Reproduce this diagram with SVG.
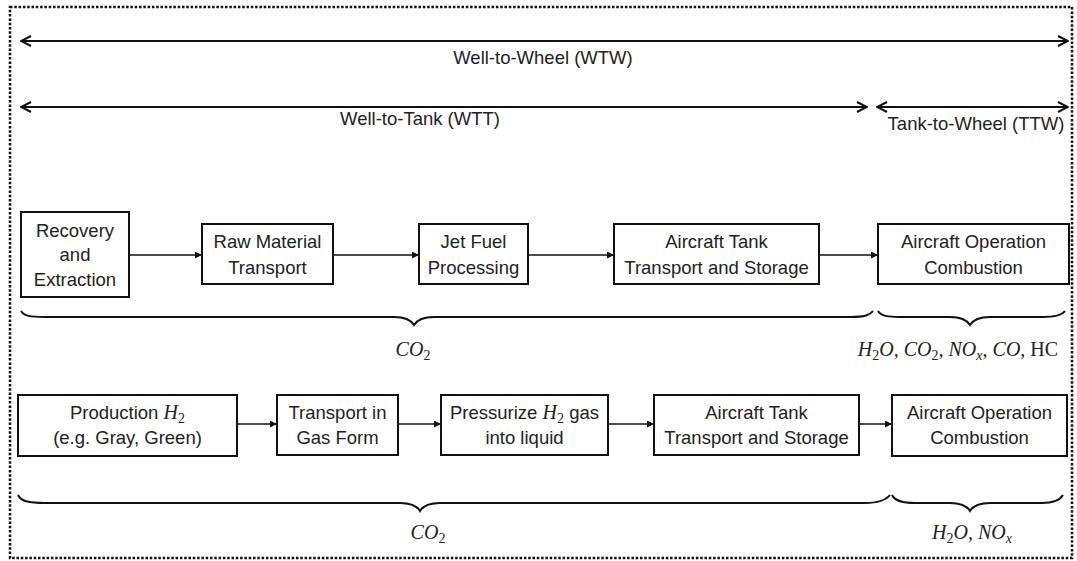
<svg xmlns="http://www.w3.org/2000/svg" width="1077" height="561" viewBox="0 0 1077 561">
<defs>
<marker id="fa" viewBox="0 0 10 10" refX="10" refY="5" markerWidth="7" markerHeight="7" markerUnits="userSpaceOnUse" orient="auto"><path d="M0,0 L10,5 L0,10 z" fill="#111"/></marker>
<marker id="chev" viewBox="0 0 12 12" refX="11" refY="6" markerWidth="12" markerHeight="12" markerUnits="userSpaceOnUse" orient="auto-start-reverse"><path d="M1,1 L11,6 L1,11" fill="none" stroke="#111" stroke-width="2"/></marker>
</defs>
<style>
.box{fill:#fff;stroke:#111;stroke-width:2}
.t{font-family:"Liberation Sans",Arial,sans-serif;font-size:18.5px;fill:#222;text-anchor:middle}
.m{font-family:"Liberation Serif","Times New Roman",serif;font-style:italic;font-size:20px;fill:#222}
.sub{font-size:14px;font-style:normal}
.subi{font-size:14px}
.conn{stroke:#111;stroke-width:1.6;fill:none;marker-end:url(#fa)}
.span{stroke:#111;stroke-width:2;fill:none;marker-start:url(#chev);marker-end:url(#chev)}
.brace{stroke:#111;stroke-width:2;fill:none}
</style>
<rect x="10" y="7" width="1062" height="551" fill="#fff" stroke="#111" stroke-width="2.5" stroke-dasharray="2.5 1.8"/>

<g id="scope">
<line class="span" x1="21" y1="41" x2="1068" y2="41"/>
<text class="t" x="543" y="64">Well-to-Wheel (WTW)</text>
<line class="span" x1="21" y1="107" x2="867" y2="107"/>
<text class="t" x="420" y="125">Well-to-Tank (WTT)</text>
<line class="span" x1="877" y1="107" x2="1068" y2="107"/>
<text class="t" x="976" y="130">Tank-to-Wheel (TTW)</text>
</g>

<g id="connectors">
<line class="conn" x1="129" y1="255" x2="202" y2="255"/>
<line class="conn" x1="333" y1="255" x2="419" y2="255"/>
<line class="conn" x1="528" y1="255" x2="614" y2="255"/>
<line class="conn" x1="819" y1="255" x2="878" y2="255"/>
<line class="conn" x1="237" y1="424" x2="277" y2="424"/>
<line class="conn" x1="398" y1="424" x2="441" y2="424"/>
<line class="conn" x1="608" y1="424" x2="654" y2="424"/>
<line class="conn" x1="859" y1="424" x2="892" y2="424"/>
</g>

<g id="r1n1">
<rect class="box" x="21" y="212" width="108" height="85"/>
<text class="t" x="75" y="237">Recovery</text>
<text class="t" x="75" y="261">and</text>
<text class="t" x="75" y="286">Extraction</text>
</g>
<g id="r1n2">
<rect class="box" x="202" y="224" width="131" height="60"/>
<text class="t" x="267.5" y="248">Raw Material</text>
<text class="t" x="267.5" y="274">Transport</text>
</g>
<g id="r1n3">
<rect class="box" x="419" y="224" width="109" height="60"/>
<text class="t" x="473.5" y="248">Jet Fuel</text>
<text class="t" x="473.5" y="274">Processing</text>
</g>
<g id="r1n4">
<rect class="box" x="614" y="224" width="205" height="60"/>
<text class="t" x="716.5" y="248">Aircraft Tank</text>
<text class="t" x="716.5" y="274">Transport and Storage</text>
</g>
<g id="r1n5">
<rect class="box" x="878" y="224" width="191" height="60"/>
<text class="t" x="973.5" y="248">Aircraft Operation</text>
<text class="t" x="973.5" y="274">Combustion</text>
</g>

<g id="r1braces">
<path class="brace" d="M21,311 C24,316 30,317 45,317 L394,317 C406,317 411,320 414,325 C417,320 422,317 434,317 L850,317 C865,317 870,315 873,311"/>
<path class="brace" d="M878,311 C881,316 888,317 900,317 L950,317 C962,317 967,320 970,325 C973,320 978,317 990,317 L1043,317 C1056,317 1062,315 1065,311"/>
<text class="m" x="413" y="356" text-anchor="middle">CO<tspan class="sub" dy="4">2</tspan></text>
<text class="m" x="958" y="356" text-anchor="middle">H<tspan class="sub" dy="4">2</tspan><tspan dy="-4">O, CO</tspan><tspan class="sub" dy="4">2</tspan><tspan dy="-4">, NO</tspan><tspan class="subi" dy="4">x</tspan><tspan dy="-4">, CO, </tspan><tspan font-style="normal">HC</tspan></text>
</g>

<g id="r2n1">
<rect class="box" x="18" y="395" width="219" height="61"/>
<text class="t" x="127.5" y="419">Production <tspan class="m" font-size="20">H<tspan class="sub" dy="4">2</tspan></tspan></text>
<text class="t" x="127.5" y="444">(e.g. Gray, Green)</text>
</g>
<g id="r2n2">
<rect class="box" x="277" y="395" width="121" height="60"/>
<text class="t" x="337.5" y="419">Transport in</text>
<text class="t" x="337.5" y="444">Gas Form</text>
</g>
<g id="r2n3">
<rect class="box" x="441" y="395" width="167" height="60"/>
<text class="t" x="524.5" y="419">Pressurize <tspan class="m" font-size="20">H<tspan class="sub" dy="4">2</tspan></tspan><tspan dy="-4"> gas</tspan></text>
<text class="t" x="524.5" y="444">into liquid</text>
</g>
<g id="r2n4">
<rect class="box" x="654" y="395" width="205" height="60"/>
<text class="t" x="756.5" y="419">Aircraft Tank</text>
<text class="t" x="756.5" y="444">Transport and Storage</text>
</g>
<g id="r2n5">
<rect class="box" x="892" y="395" width="175" height="61"/>
<text class="t" x="979.5" y="419">Aircraft Operation</text>
<text class="t" x="979.5" y="444">Combustion</text>
</g>

<g id="r2braces">
<path class="brace" d="M18,495 C21,501 28,503 45,503 L400,503 C412,503 417,506 420,511 C423,506 428,503 440,503 L865,503 C880,503 886,500 890,495"/>
<path class="brace" d="M892,495 C895,501 902,503 915,503 L950,503 C962,503 967,506 970,511 C973,506 978,503 990,503 L1042,503 C1055,503 1060,500 1063,495"/>
<text class="m" x="428" y="539" text-anchor="middle">CO<tspan class="sub" dy="4">2</tspan></text>
<text class="m" x="972" y="539" text-anchor="middle">H<tspan class="sub" dy="4">2</tspan><tspan dy="-4">O, NO</tspan><tspan class="subi" dy="4">x</tspan></text>
</g>
</svg>
